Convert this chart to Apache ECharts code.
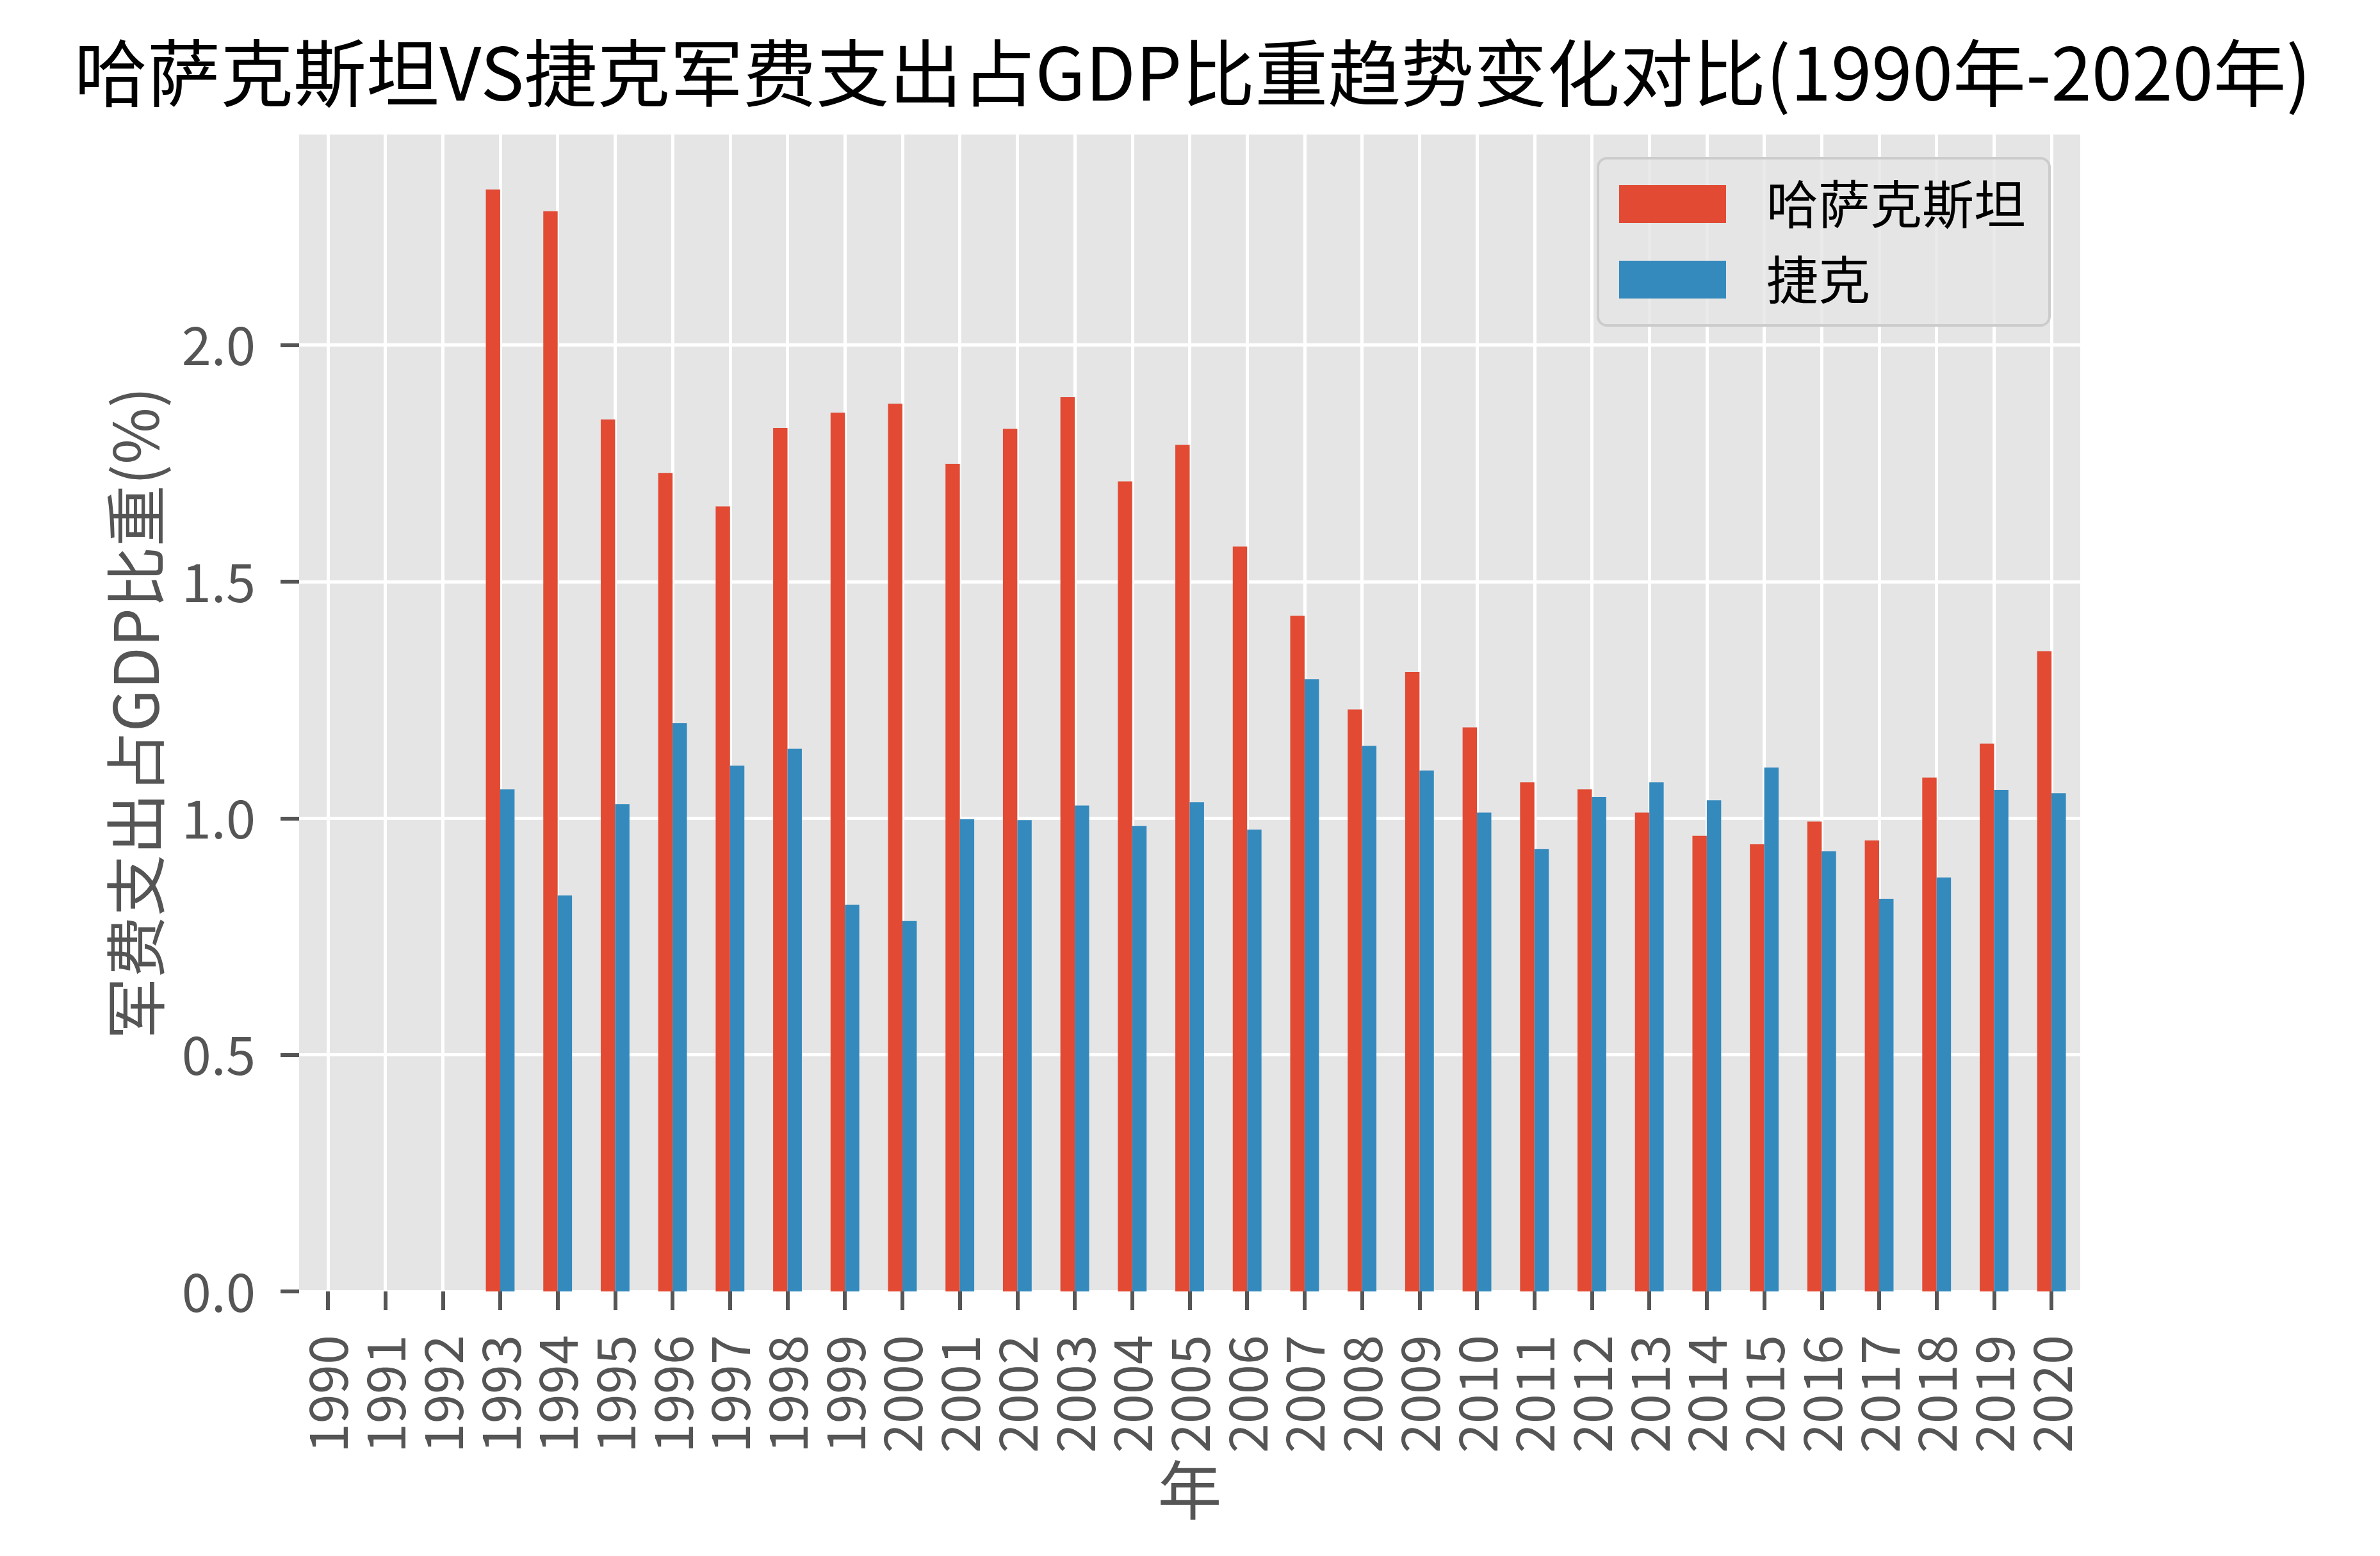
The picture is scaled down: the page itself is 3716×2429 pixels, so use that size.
<!DOCTYPE html>
<html>
<head>
<meta charset="utf-8">
<script src="https://cdn.jsdelivr.net/npm/echarts@6/dist/echarts.min.js"></script>
<style>
html,body{margin:0;padding:0;background:#fff;}
#chart{width:3716px;height:2429px;}
</style>
</head>
<body>
<div id="chart"></div>
<script>
const years = ['1990','1991','1992','1993','1994','1995','1996','1997','1998','1999','2000','2001','2002','2003','2004','2005','2006','2007','2008','2009','2010','2011','2012','2013','2014','2015','2016','2017','2018','2019','2020'];
const kazakhstan = [null,null,null,2.329,2.283,1.843,1.730,1.659,1.825,1.857,1.876,1.749,1.823,1.890,1.712,1.789,1.574,1.428,1.230,1.309,1.192,1.076,1.061,1.012,0.963,0.945,0.993,0.953,1.086,1.158,1.353];
const czech = [null,null,null,1.061,0.837,1.030,1.201,1.111,1.147,0.817,0.783,0.998,0.996,1.027,0.984,1.034,0.976,1.294,1.153,1.101,1.012,0.935,1.045,1.076,1.038,1.107,0.930,0.830,0.875,1.060,1.053];
const yTicks = [0, 0.5, 1.0, 1.5, 2.0];
const seriesNames = ['哈萨克斯坦', '捷克'];
const titleText = '哈萨克斯坦VS捷克军费支出占GDP比重趋势变化对比(1990年-2020年)';
const xName = '年';
const yName = '军费支出占GDP比重(%)';

const FONT = '"Noto Sans CJK SC", "Noto Sans", sans-serif';
const chart = echarts.init(document.getElementById('chart'), null, {renderer: 'canvas'});
chart.setOption({
  animation: false,
  backgroundColor: '#ffffff',
  color: ['#E24A33', '#348ABD'],
  title: {
    text: titleText,
    left: 1857, textAlign: 'center',
    top: 52,
    textStyle: {fontFamily: FONT, fontSize: 114, fontWeight: 'normal', color: '#000'}
  },
  legend: {
    orient: 'vertical',
    left: 2495, top: 247,
    padding: [31, 37, 31, 33],
    itemWidth: 167, itemHeight: 59, itemGap: 37,
    icon: 'rect',
    backgroundColor: 'rgba(229,229,229,0.8)',
    borderColor: '#CCCCCC', borderWidth: 4, borderRadius: 14,
    textStyle: {fontFamily: FONT, fontSize: 81, color: '#000', padding: [0, 0, 0, 58]},
    data: seriesNames
  },
  grid: {
    left: 467, right: 468, top: 210, bottom: 413,
    show: true, backgroundColor: '#E5E5E5', borderWidth: 0
  },
  xAxis: {
    type: 'category',
    data: years,
    boundaryGap: true,
    name: xName, nameLocation: 'middle', nameGap: 247,
    nameTextStyle: {fontFamily: FONT, fontSize: 100, color: '#555555', lineHeight: 100},
    axisLine: {show: false},
    axisTick: {show: true, alignWithLabel: true, length: 29, lineStyle: {color: '#555555', width: 6}},
    axisLabel: {rotate: 90, margin: 68, fontFamily: FONT, fontSize: 83, color: '#555555', interval: 0},
    splitLine: {show: true, alignWithLabel: true, lineStyle: {color: '#ffffff', width: 5}}
  },
  yAxis: {
    type: 'value',
    min: 0, max: 2.445, interval: 0.5,
    name: yName, nameLocation: 'middle', nameRotate: 90, nameGap: 205,
    nameTextStyle: {fontFamily: FONT, fontSize: 96, color: '#555555', lineHeight: 100},
    axisLine: {show: false},
    axisTick: {show: true, length: 29, customValues: yTicks, lineStyle: {color: '#555555', width: 6}},
    axisLabel: {margin: 68, fontFamily: FONT, fontSize: 83, color: '#555555', customValues: yTicks,
      formatter: v => Number(v).toFixed(1)},
    splitLine: {show: true, lineStyle: {color: '#ffffff', width: 5}}
  },
  series: [
    {name: seriesNames[0], type: 'bar', data: kazakhstan, barWidth: '25%', barGap: '0%', itemStyle: {color: '#E24A33'}},
    {name: seriesNames[1], type: 'bar', data: czech, barWidth: '25%', barGap: '0%', itemStyle: {color: '#348ABD'}}
  ]
});
</script>
</body>
</html>
